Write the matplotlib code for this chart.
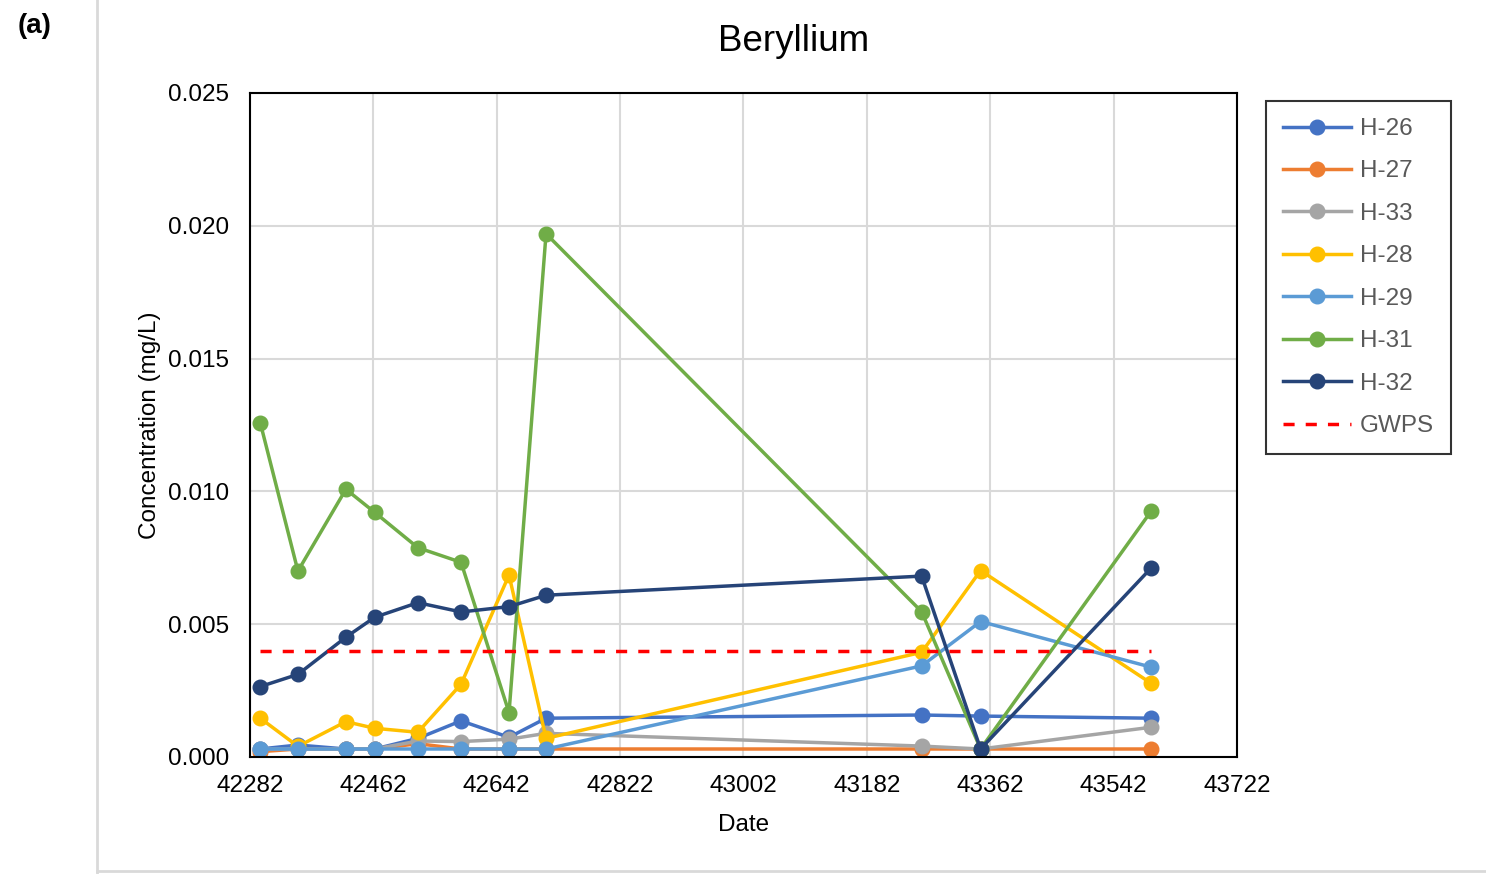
import matplotlib.pyplot as plt
from matplotlib.lines import Line2D

plt.rcParams['font.family'] = ['Liberation Sans', 'DejaVu Sans']

dates = [42297, 42352, 42422, 42464, 42527, 42590, 42660, 42714, 43262, 43348, 43597]

h26 = [0.0003, 0.00045, 0.0003, 0.0003, 0.0007, 0.00136, 0.00074, 0.00146, 0.00158, 0.00154, 0.00146]
h27 = [0.0002, 0.0003, 0.0003, 0.0003, 0.0005, 0.0003, 0.0003, 0.0003, 0.0003, 0.0003, 0.0003]
h33 = [0.0003, 0.0003, 0.0003, 0.0003, 0.0006, 0.00058, 0.00067, 0.00089, 0.00041, 0.0003, 0.00112]
h28 = [0.00146, 0.0004, 0.00133, 0.00108, 0.00093, 0.00274, 0.00685, 0.0007, 0.00394, 0.00702, 0.00277]
h29 = [0.0003, 0.0003, 0.0003, 0.0003, 0.0003, 0.0003, 0.0003, 0.0003, 0.00343, 0.0051, 0.00338]
h31 = [0.01259, 0.0070, 0.01008, 0.00921, 0.00788, 0.00733, 0.00167, 0.0197, 0.00547, 0.0003, 0.00926]
h32 = [0.00265, 0.00311, 0.00451, 0.00526, 0.00581, 0.00546, 0.00566, 0.00609, 0.00681, 0.0003, 0.00712]
gwps = 0.004

names = ['H-26', 'H-27', 'H-33', 'H-28', 'H-29', 'H-31', 'H-32']
series = [h26, h27, h33, h28, h29, h31, h32]
colors = ['#4472C4', '#ED7D31', '#A5A5A5', '#FFC000', '#5B9BD5', '#70AD47', '#264478']

fig = plt.figure(figsize=(14.86, 8.74), dpi=100)
ax = fig.add_axes([0.1682, 0.1339, 0.6642, 0.7597])

handles = []
for name, vals, c in zip(names, series, colors):
    ln, = ax.plot(dates, vals, '-o', color=c, lw=2.5, ms=10.5, label=name)
    handles.append(ln)
ln, = ax.plot([dates[0], dates[-1]], [gwps, gwps], '--', color='#FF0000', lw=2.5,
              dashes=(3.2, 3.2), label='GWPS')
handles.append(ln)

ax.set_xlim(42282, 43722)
ax.set_ylim(0, 0.025)
ax.set_xticks(range(42282, 43723, 180))
ax.set_yticks([0, 0.005, 0.010, 0.015, 0.020, 0.025])
ax.set_yticklabels(['0.000', '0.005', '0.010', '0.015', '0.020', '0.025'])
ax.grid(True, color='#d9d9d9', lw=1.5)
ax.set_axisbelow(True)
ax.tick_params(length=0, labelsize=17.5)
ax.tick_params(axis='y', pad=15)
ax.tick_params(axis='x', pad=13)
for s in ax.spines.values():
    s.set_color('black')
    s.set_linewidth(1.5)

fig.text(0.534, 0.953, 'Beryllium', fontsize=26.5, ha='center', va='center')
ax.set_xlabel('Date', fontsize=17.5, labelpad=12)
ax.set_ylabel('Concentration (mg/L)', fontsize=17.5, labelpad=5)

leg = fig.legend(handles=handles, loc='upper left', bbox_to_anchor=(0.852, 0.8844),
                 fontsize=17.5, frameon=True, fancybox=False, edgecolor='black',
                 handlelength=2.8, handletextpad=0.35, labelspacing=0.84, borderpad=0.7,
                 borderaxespad=0)
leg.get_frame().set_linewidth(1.5)
for t in leg.get_texts():
    t.set_color('#595959')

fig.text(0.012, 0.985, '(a)', fontsize=20, fontweight='bold', va='top')
fig.add_artist(Line2D([0.0655, 0.0655], [0.0, 1.0], color='#d9d9d9', lw=2))
fig.add_artist(Line2D([0.0655, 1.0], [0.004, 0.004], color='#d9d9d9', lw=2))

fig.savefig('out.png', dpi=100)
